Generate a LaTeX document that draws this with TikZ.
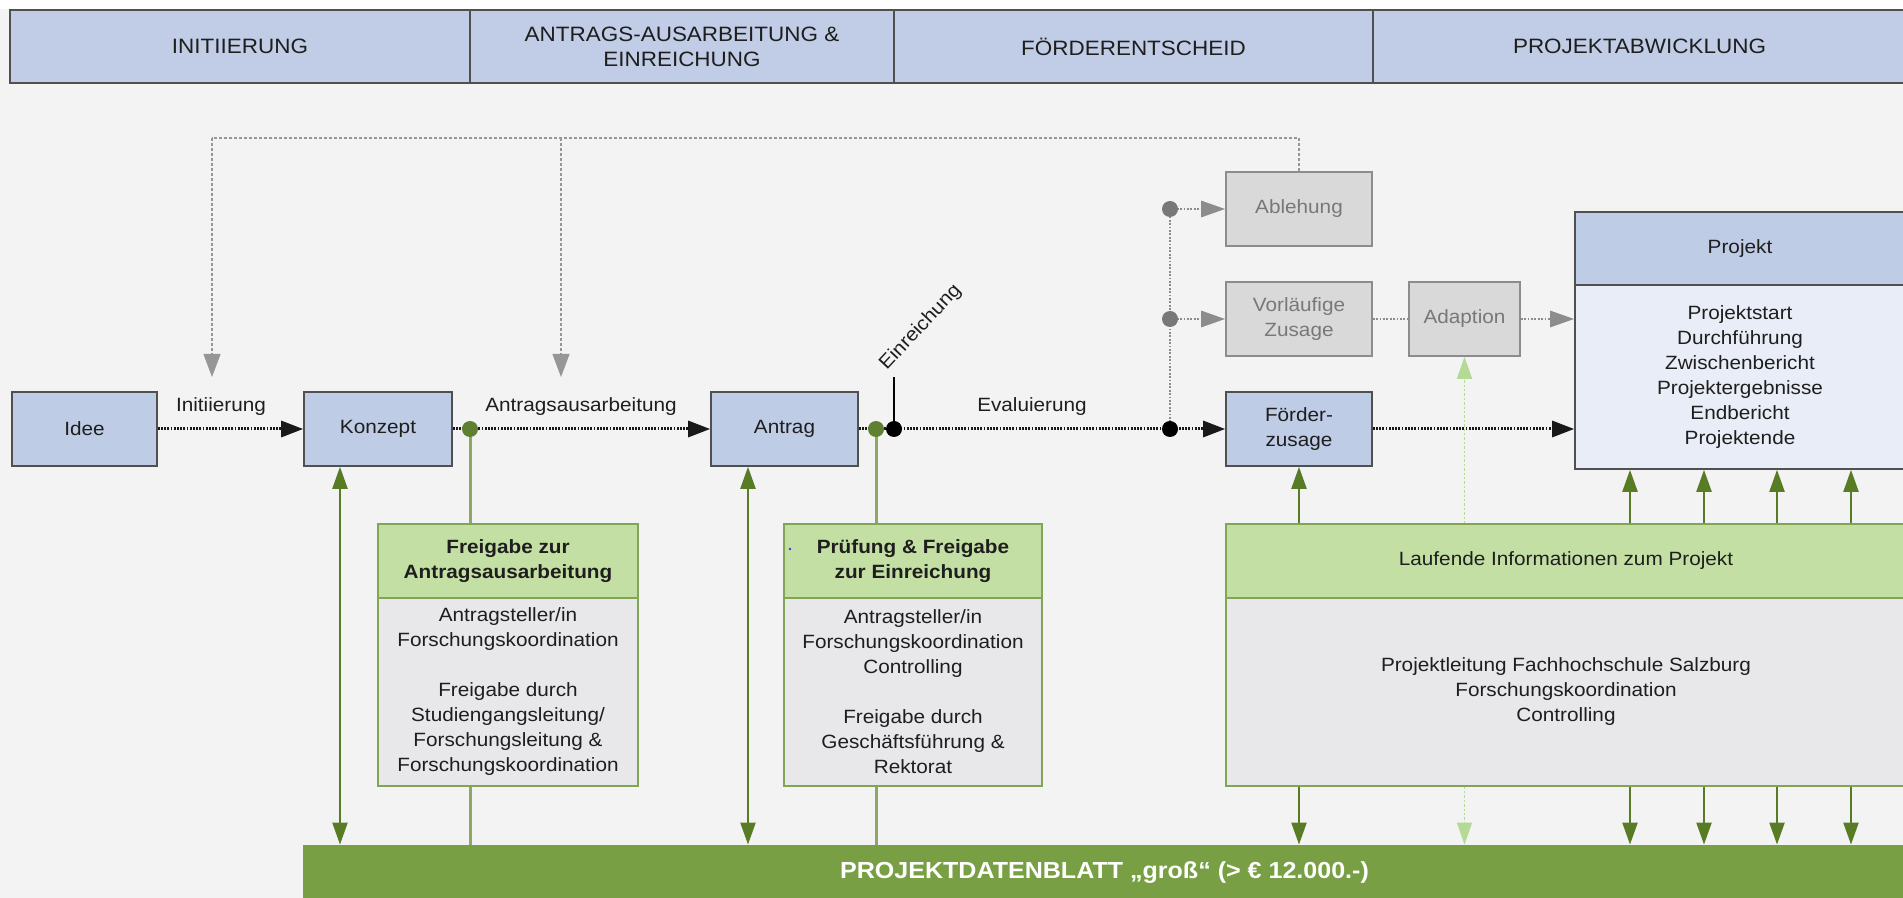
\documentclass[tikz,border=0pt]{standalone}
\usepackage{fontspec}
\setmainfont{Liberation Sans}[FakeStretch=1.08]
\usetikzlibrary{arrows.meta,calc}

\definecolor{bg}{RGB}{243,243,243}
\definecolor{hdrblue}{RGB}{193,205,230}
\definecolor{boxblue}{RGB}{191,204,230}
\definecolor{paleblue}{RGB}{232,237,247}
\definecolor{boxedge}{RGB}{80,80,80}
\definecolor{grayfill}{RGB}{217,217,217}
\definecolor{grayedge}{RGB}{140,140,140}
\definecolor{graytext}{RGB}{120,120,120}
\definecolor{lightgreen}{RGB}{196,223,164}
\definecolor{greenedge}{RGB}{130,165,85}
\definecolor{bodygray}{RGB}{232,232,234}
\definecolor{bargreen}{RGB}{120,159,67}
\definecolor{arrowgreen}{RGB}{88,124,38}
\definecolor{linkgreen}{RGB}{140,168,98}
\definecolor{dotgreen}{RGB}{94,128,48}
\definecolor{palegreen}{RGB}{180,218,150}
\definecolor{fbgray}{RGB}{150,150,150}
\definecolor{txt}{RGB}{30,30,30}

\newcommand\bodysize{\fontsize{9.6pt}{12.5pt}\selectfont}
\newcommand\hdrsize{\fontsize{10.4pt}{12.5pt}\selectfont}
\newcommand\barsize{\fontsize{11.6pt}{14pt}\selectfont}

\tikzset{
  phase/.style={draw=boxedge, line width=0.8pt, fill=hdrblue, minimum height=36.5pt,
    inner sep=0pt, align=center, font=\hdrsize, text=txt},
  stepbox/.style={draw=boxedge, line width=0.8pt, fill=boxblue, minimum height=37pt,
    inner sep=0pt, align=center, font=\bodysize, text=txt},
  graybox/.style={draw=grayedge, line width=0.8pt, fill=grayfill, minimum height=37pt,
    inner sep=0pt, align=center, font=\bodysize, text=graytext},
  greenhead/.style={draw=greenedge, line width=0.6pt, fill=lightgreen, minimum height=37pt,
    inner sep=0pt, align=center, font=\bodysize, text=txt},
  graybody/.style={draw=greenedge, line width=0.6pt, fill=bodygray, minimum height=94pt,
    inner sep=0pt, align=center, font=\bodysize, text=txt},
  lbl/.style={font=\bodysize, text=txt, inner sep=1pt},
  flowline/.style={draw=black!90, line width=1.5pt, dash pattern=on 0.9pt off 0.7pt},
  flow/.style={flowline, -{Triangle[length=11pt,width=8pt]}},
  grayline/.style={draw=graytext!85, line width=1.4pt, dash pattern=on 0.9pt off 0.8pt},
  grayflow/.style={grayline, -{Triangle[length=12pt,width=8pt]}},
  fbline/.style={draw=fbgray, line width=0.6pt, dash pattern=on 1.5pt off 1pt},
  fbflow/.style={fbline, -{Triangle[length=11.5pt,width=8.5pt]}},
  greenarrow/.style={draw=arrowgreen, line width=1.1pt, -{Triangle[length=11pt,width=7.5pt]}},
  greenboth/.style={draw=arrowgreen, line width=1.1pt,
    {Triangle[length=11pt,width=7.5pt]}-{Triangle[length=11pt,width=7.5pt]}},
  linkline/.style={draw=linkgreen, line width=1.5pt},
  palearrow/.style={draw=palegreen, line width=0.8pt, dash pattern=on 1.2pt off 1pt,
    -{Triangle[length=11pt,width=7.5pt]}},
  dot/.style={circle, inner sep=0pt, minimum size=8pt},
}

\begin{document}
\begin{tikzpicture}[x=0.5pt,y=-0.5pt]
  % canvas
  \useasboundingbox (0,0) rectangle (1903,898);
  \fill[bg] (0,0) rectangle (1903,898);
  \fill[white] (0,0) rectangle (1903,9);

  % phase header
  \node[phase, minimum width=230pt]   (ph1) at (240,46.5)    {INITIIERUNG};
  \node[phase, minimum width=212pt]   (ph2) at (682,46.5)    {ANTRAGS-AUSARBEITUNG \&\\EINREICHUNG};
  \node[phase, minimum width=239.5pt] (ph3) at (1133.5,46.5) {FÖRDERENTSCHEID};
  \node[phase, minimum width=266.5pt] (ph4) at (1639.5,46.5) {PROJEKTABWICKLUNG};

  % main process steps
  \node[stepbox, minimum width=72.5pt] (idee)    at (84.5,429)  {Idee};
  \node[stepbox, minimum width=74pt]   (konzept) at (378,429)   {Konzept};
  \node[stepbox, minimum width=73.5pt] (antrag)  at (784.5,429) {Antrag};
  \node[stepbox, minimum width=73pt]   (foerder) at (1299,429)  {Förder-\\zusage};

  % decision outcomes
  \node[graybox, minimum width=73pt]   (ablehnung) at (1299,209)   {Ablehung};
  \node[graybox, minimum width=73pt]   (vorl)      at (1299,319)   {Vorläufige\\Zusage};
  \node[graybox, minimum width=55.5pt] (adaption)  at (1464.5,319) {Adaption};

  % project box
  \node[stepbox, minimum width=165pt, minimum height=36.5pt] (projhead) at (1740,248.5) {Projekt};
  \node[stepbox, fill=paleblue, minimum width=165pt, minimum height=92pt] (projbody) at (1740,377)
    {Projektstart\\Durchführung\\Zwischenbericht\\Projektergebnisse\\Endbericht\\Projektende};

  % approval boxes
  \node[greenhead, minimum width=130pt, font=\bodysize\bfseries] (f1head) at (508,561)
    {Freigabe zur\\Antragsausarbeitung};
  \node[graybody, minimum width=130pt] (f1body) at (508,692)
    {Antragsteller/in\\Forschungskoordination\\[12.5pt]Freigabe durch\\Studiengangsleitung/\\Forschungsleitung \&\\Forschungskoordination};
  \node[greenhead, minimum width=129pt, font=\bodysize\bfseries] (f2head) at (913,561)
    {Prüfung \& Freigabe\\zur Einreichung};
  \node[graybody, minimum width=129pt] (f2body) at (913,692)
    {Antragsteller/in\\Forschungskoordination\\Controlling\\[12.5pt]Freigabe durch\\Geschäftsführung \&\\Rektorat};
  \fill[blue!80] (790,549) circle (0.7pt);

  % ongoing information box
  \node[greenhead, minimum width=340pt] (laufhead) at (1566,561) {Laufende Informationen zum Projekt};
  \node[graybody, minimum width=340pt] (laufbody) at (1566,692)
    {Projektleitung Fachhochschule Salzburg\\Forschungskoordination\\Controlling};

  % data sheet bar
  \node[fill=bargreen, minimum width=801.5pt, minimum height=27.5pt, inner sep=0pt,
        font=\barsize\bfseries, text=white] (bar) at (1104.5,872.5)
    {PROJEKTDATENBLATT „groß“ (> € 12.000.-)};

  % junction points
  \coordinate (gdot1) at (470,429);
  \coordinate (gdot2) at (876,429);
  \coordinate (bdot1) at (894,429);
  \coordinate (bdot2) at (1170,429);
  \coordinate (gyA)   at (1170,209);
  \coordinate (gyB)   at (1170,319);
  \coordinate (einr)  at (894,377);
  \coordinate (fbtop) at (212,138);
  \coordinate (fbmid) at (561,138);
  \coordinate (tipI)  at (212,377);
  \coordinate (tipA)  at (561,377);
  \coordinate (colK)  at (340,0);
  \coordinate (colA)  at (748,0);
  \coordinate (colP1) at (1630,0);
  \coordinate (colP2) at (1704,0);
  \coordinate (colP3) at (1777,0);
  \coordinate (colP4) at (1851,0);

  % feedback loop from rejection
  \draw[fbline] (ablehnung.north) |- (fbtop);
  \draw[fbflow] (fbtop) -- (tipI);
  \draw[fbflow] (fbmid) -- (tipA);

  % main flow
  \draw[flow] (idee) -- (konzept);
  \draw[flow] (konzept.east) -- (antrag.west);
  \draw[flow] (antrag.east) -- (foerder.west);
  \draw[flow] (foerder.east) -- (foerder.east -| projbody.west);

  % decision branches
  \draw[grayline] (bdot2) -- (gyA);
  \draw[grayflow] (gyA) -- (ablehnung.west);
  \draw[grayflow] (gyB) -- (vorl.west);
  \draw[grayline] (vorl.east) -- (adaption.west);
  \draw[grayflow] (adaption.east) -- (adaption.east -| projbody.west);

  % submission marker
  \draw[black, line width=1.1pt] (bdot1) -- (einr);
  \node[lbl, rotate=47, anchor=south west] (einrlabel) at ([xshift=-2pt]einr) {Einreichung};

  % flow labels
  \node[lbl] (lblinit) at (221,407)  {Initiierung};
  \node[lbl] (lblantr) at (581,407)  {Antragsausarbeitung};
  \node[lbl] (lbleval) at (1032,407) {Evaluierung};

  % approval links
  \draw[linkline] (gdot1) -- (gdot1 |- f1head.north);
  \draw[linkline] (f1body.south -| gdot1) -- (bar.north -| gdot1);
  \draw[linkline] (gdot2) -- (gdot2 |- f2head.north);
  \draw[linkline] (f2body.south -| gdot2) -- (bar.north -| gdot2);

  % data sheet exchange
  \draw[greenboth] (konzept.south -| colK) -- (bar.north -| colK);
  \draw[greenboth] (antrag.south -| colA) -- (bar.north -| colA);
  \draw[greenarrow] (laufhead.north -| foerder) -- (foerder.south);
  \draw[greenarrow] (laufbody.south -| foerder) -- (bar.north -| foerder);
  \foreach \c in {colP1,colP2,colP3,colP4} {
    \draw[greenarrow] (laufhead.north -| \c) -- (projbody.south -| \c);
    \draw[greenarrow] (laufbody.south -| \c) -- (bar.north -| \c);
  }
  \draw[palearrow] (laufhead.north -| adaption) -- (adaption.south);
  \draw[palearrow] (laufbody.south -| adaption) -- (bar.north -| adaption);

  % junction dots
  \node[dot, fill=dotgreen] (gd1) at (gdot1) {};
  \node[dot, fill=dotgreen] (gd2) at (gdot2) {};
  \node[dot, fill=black]    (bd1) at (bdot1) {};
  \node[dot, fill=black]    (bd2) at (bdot2) {};
  \node[dot, fill=graytext] (gya) at (gyA) {};
  \node[dot, fill=graytext] (gyb) at (gyB) {};
\end{tikzpicture}
\end{document}
